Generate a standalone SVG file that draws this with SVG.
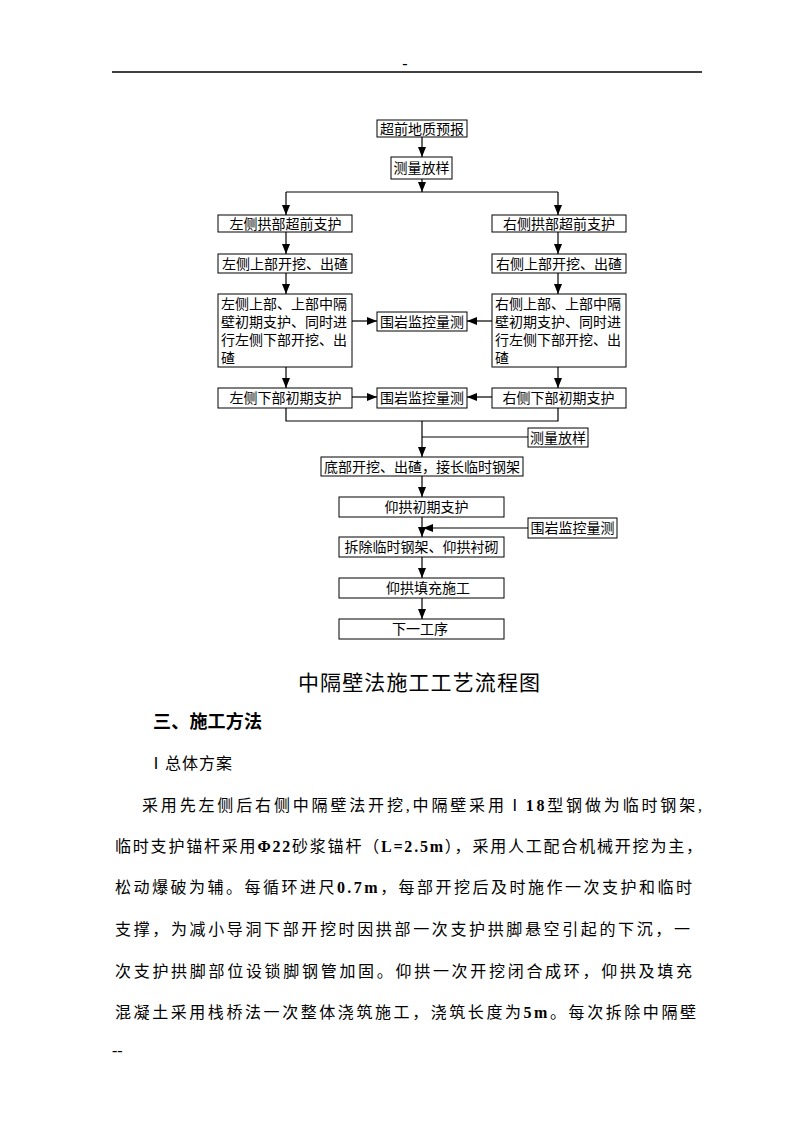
<svg xmlns="http://www.w3.org/2000/svg" width="794" height="1123" viewBox="0 0 794 1123">
<style>
.bx{fill:#fff;stroke:#000;stroke-width:1}
.t{font-family:"Noto Sans CJK SC","Liberation Sans",sans-serif;font-size:14px;fill:#000}
.c{text-anchor:middle}
.ln{stroke:#000;stroke-width:1.2;fill:none}
.ar{marker-end:url(#ah)}
.body{font-family:"Liberation Serif","Noto Sans CJK SC",serif;font-size:16px;fill:#000}
.b{font-weight:bold}
</style>
<defs>
<marker id="ah" markerUnits="userSpaceOnUse" markerWidth="10" markerHeight="8" refX="10" refY="4" orient="auto">
<path d="M0,0 L10,4 L0,8 z" fill="#000"/>
</marker>
</defs>
<rect width="794" height="1123" fill="#fff"/>
<g id="header">
<line x1="112" y1="72" x2="702" y2="72" stroke="#000" stroke-width="1.5"/>
<text x="405" y="69" class="body" text-anchor="middle" font-size="12">-</text>
</g>
<g id="connectors">
<line class="ln ar" x1="422" y1="137" x2="422" y2="157"/>
<line class="ln ar" x1="422" y1="179" x2="422" y2="192"/>
<line class="ln" x1="286" y1="192" x2="558" y2="192"/>
<line class="ln ar" x1="286" y1="192" x2="286" y2="215"/>
<line class="ln ar" x1="558" y1="192" x2="558" y2="215"/>
<line class="ln ar" x1="286" y1="232" x2="286" y2="254"/>
<line class="ln ar" x1="558" y1="232" x2="558" y2="254"/>
<line class="ln ar" x1="286" y1="273" x2="286" y2="294"/>
<line class="ln ar" x1="558" y1="273" x2="558" y2="294"/>
<line class="ln ar" x1="352" y1="321" x2="377" y2="321"/>
<line class="ln ar" x1="492" y1="321" x2="467" y2="321"/>
<line class="ln ar" x1="286" y1="367" x2="286" y2="388"/>
<line class="ln ar" x1="558" y1="367" x2="558" y2="388"/>
<line class="ln ar" x1="352" y1="397" x2="377" y2="397"/>
<line class="ln ar" x1="492" y1="397" x2="467" y2="397"/>
<polyline class="ln" points="286,408 286,421 558,421 558,408"/>
<line class="ln" x1="528" y1="437" x2="422" y2="437"/>
<line class="ln ar" x1="422" y1="421" x2="422" y2="457"/>
<line class="ln ar" x1="422" y1="476" x2="422" y2="497"/>
<line class="ln ar" x1="422" y1="517" x2="422" y2="537"/>
<line class="ln ar" x1="528" y1="528" x2="423" y2="528"/>
<line class="ln ar" x1="422" y1="557" x2="422" y2="578"/>
<line class="ln ar" x1="422" y1="598" x2="422" y2="619"/>
</g>
<g id="n1"><rect class="bx" x="377" y="120" width="90" height="17"/><text class="t c" x="422" y="133.5">超前地质预报</text></g>
<g id="n2"><rect class="bx" x="391" y="157" width="61" height="22"/><text class="t c" x="421.5" y="173">测量放样</text></g>
<g id="n3"><rect class="bx" x="218" y="215" width="134" height="17"/><text class="t c" x="285.5" y="228.5">左侧拱部超前支护</text></g>
<g id="n4"><rect class="bx" x="492" y="215" width="134" height="17"/><text class="t c" x="559" y="228.5">右侧拱部超前支护</text></g>
<g id="n5"><rect class="bx" x="218" y="254" width="134" height="19"/><text class="t c" x="285" y="268.5">左侧上部开挖、出碴</text></g>
<g id="n6"><rect class="bx" x="492" y="254" width="134" height="19"/><text class="t c" x="559" y="268.5">右侧上部开挖、出碴</text></g>
<g id="n7"><rect class="bx" x="218" y="294" width="134" height="73"/>
<text class="t" x="221" y="309">左侧上部、上部中隔</text>
<text class="t" x="221" y="327">壁初期支护、同时进</text>
<text class="t" x="221" y="345">行左侧下部开挖、出</text>
<text class="t" x="221" y="363">碴</text></g>
<g id="n8"><rect class="bx" x="492" y="294" width="134" height="73"/>
<text class="t" x="495" y="309">右侧上部、上部中隔</text>
<text class="t" x="495" y="327">壁初期支护、同时进</text>
<text class="t" x="495" y="345">行左侧下部开挖、出</text>
<text class="t" x="495" y="363">碴</text></g>
<g id="n9"><rect class="bx" x="377" y="312" width="90" height="19"/><text class="t c" x="422" y="326.5">围岩监控量测</text></g>
<g id="n10"><rect class="bx" x="218" y="388" width="134" height="20"/><text class="t c" x="285.5" y="403">左侧下部初期支护</text></g>
<g id="n11"><rect class="bx" x="377" y="388" width="90" height="20"/><text class="t c" x="422" y="403">围岩监控量测</text></g>
<g id="n12"><rect class="bx" x="492" y="388" width="134" height="20"/><text class="t c" x="558.5" y="403">右侧下部初期支护</text></g>
<g id="n13"><rect class="bx" x="528" y="428" width="60" height="19"/><text class="t c" x="558" y="442.5">测量放样</text></g>
<g id="n14"><rect class="bx" x="321" y="457" width="202" height="19"/><text class="t c" x="422" y="471.5">底部开挖、出碴，接长临时钢架</text></g>
<g id="n15"><rect class="bx" x="339" y="497" width="165" height="20"/><text class="t c" x="426.5" y="512">仰拱初期支护</text></g>
<g id="n16"><rect class="bx" x="528" y="518" width="89" height="20"/><text class="t c" x="572.5" y="533">围岩监控量测</text></g>
<g id="n17"><rect class="bx" x="339" y="537" width="165" height="20"/><text class="t c" x="421.5" y="552">拆除临时钢架、仰拱衬砌</text></g>
<g id="n18"><rect class="bx" x="339" y="578" width="165" height="20"/><text class="t c" x="428" y="593">仰拱填充施工</text></g>
<g id="n19"><rect class="bx" x="339" y="619" width="165" height="20"/><text class="t c" x="420" y="634">下一工序</text></g>
<g id="text">
<text x="298" y="690" font-family="'Noto Sans CJK SC',sans-serif" font-size="21" textLength="242" lengthAdjust="spacing">中隔壁法施工工艺流程图</text>
<text x="153" y="728" font-family="'Noto Sans CJK SC',sans-serif" font-size="18" font-weight="bold" textLength="109" lengthAdjust="spacing">三、施工方法</text>
<text x="148" y="769" class="body" font-size="17" textLength="84" lengthAdjust="spacing">Ⅰ总体方案</text>
<text x="142" y="811" class="body" textLength="560" lengthAdjust="spacing">采用先左侧后右侧中隔壁法开挖,中隔壁采用Ⅰ<tspan class="b">18</tspan>型钢做为临时钢架,</text>
<text x="115" y="852" class="body" textLength="587" lengthAdjust="spacing">临时支护锚杆采用<tspan class="b">Φ22</tspan>砂浆锚杆（<tspan class="b">L=2.5m</tspan>），采用人工配合机械开挖为主，</text>
<text x="115" y="893" class="body" textLength="577" lengthAdjust="spacing">松动爆破为辅。每循环进尺<tspan class="b">0.7m</tspan>，每部开挖后及时施作一次支护和临时</text>
<text x="115" y="935" class="body" textLength="575" lengthAdjust="spacing">支撑，为减小导洞下部开挖时因拱部一次支护拱脚悬空引起的下沉，一</text>
<text x="115" y="977" class="body" textLength="577" lengthAdjust="spacing">次支护拱脚部位设锁脚钢管加固。仰拱一次开挖闭合成环，仰拱及填充</text>
<text x="115" y="1018" class="body" textLength="581" lengthAdjust="spacing">混凝土采用栈桥法一次整体浇筑施工，浇筑长度为<tspan class="b">5m</tspan>。每次拆除中隔壁</text>
<text x="112" y="1056" class="body" font-size="12">--</text>
</g>
</svg>
